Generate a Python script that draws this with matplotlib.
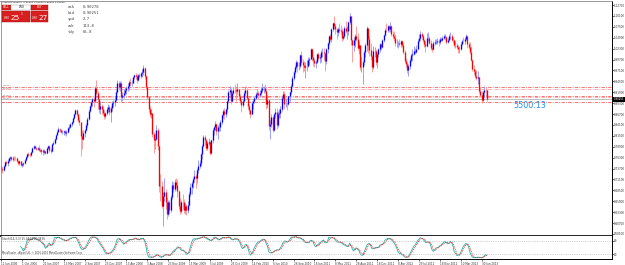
import numpy as np
import pandas as pd
import matplotlib
matplotlib.use("Agg")
import matplotlib.pyplot as plt
from matplotlib.patches import Rectangle
from matplotlib.transforms import blended_transform_factory

# ------------------------------------------
# AUDUSD weekly bars, first week 11 Jun 2006
# ------------------------------------------
start_week = "2006-06-11"
first_open = 0.742

closes = [
    # 2006
    .735, .734, .743, .752, .749, .756, .761, .764, .760, .763, .762, .761,
    .754, .749, .754, .746, .748, .749, .757, .765, .772, .770, .769, .776, .785,
    .791, .786, .783, .787, .782,
    # 2007
    .778, .781, .776, .779, .774, .786, .790, .781, .778, .795, .799, .808,
    .818, .825, .832, .829, .825, .825, .826, .821, .823, .834, .836, .842, .848,
    .858, .866, .877, .866, .853, .848, .814, .808, .822, .829, .840, .856, .873, .886,
    .895, .902, .899, .930, .917, .903, .880, .887, .878, .870, .862, .869, .879,
    # 2008
    .883, .872, .882, .893, .896, .901, .920, .942, .931, .941, .908, .912, .918,
    .925, .929, .933, .943, .940, .942, .955, .959, .958, .949, .959, .957, .964,
    .968, .977, .958, .932, .908, .880, .868, .870, .819, .805, .808, .830, .790,
    .696, .695, .648, .672, .680, .658, .628, .656, .638, .668, .697, .688, .705,
    # 2009
    .698, .683, .647, .636, .658, .657, .637, .648, .637, .650, .676, .694, .702,
    .712, .720, .715, .733, .743, .750, .772, .791, .812, .805, .785, .799, .801,
    .775, .804, .829, .835, .842, .826, .836, .837, .847, .864, .874, .866, .878,
    .898, .919, .924, .899, .917, .925, .924, .921, .927, .909, .899, .888, .898,
    # 2010
    .916, .925, .905, .887, .877, .868, .894, .897, .906, .914, .916, .913, .918,
    .925, .929, .929, .922, .892, .900, .839, .844, .859, .830, .866, .871, .841,
    .868, .869, .880, .905, .915, .892, .892, .890, .909, .920, .935, .952, .968,
    .980, .992, .981, .981, 1.007, .990, .984, .978, .981, .982, .995, .999, 1.021,
    # 2011
    1.003, .997, .988, .990, 1.009, 1.001, 1.003, 1.015, 1.016, 1.012, .994, 1.021, 1.036,
    1.052, 1.047, 1.070, 1.083, 1.077, 1.070, 1.062, 1.070, 1.067, 1.066, 1.049, 1.052, 1.073,
    1.064, 1.066, 1.086, 1.100, 1.043, 1.031, 1.043, 1.052, 1.047, 1.025, 1.032, .978, .980,
    .990, 1.014, 1.031, 1.071, 1.047, 1.020, 1.005, .978, 1.018, 1.018, .990, 1.011, 1.022,
    # 2012
    1.033, 1.028, 1.044, 1.055, 1.068, 1.067, 1.076, 1.069, 1.076, 1.057, 1.053, 1.049, 1.036,
    1.036, 1.036, 1.034, 1.040, 1.032, 1.016, .994, .986, .973, .982, .996, 1.007, 1.010,
    1.018, 1.016, 1.023, 1.042, 1.048, 1.058, 1.053, 1.043, 1.033,
    1.029, 1.048, 1.048, 1.037, 1.025, 1.022, 1.037, 1.038, 1.038,
    1.041, 1.039, 1.047, 1.044, 1.049, 1.054, 1.050, 1.038, 1.044,
    # 2013
    1.052, 1.054, 1.044, 1.043, 1.032, 1.032, 1.026, 1.021, 1.023, 1.035, 1.042, 1.041, 1.046,
    1.052, 1.035, 1.028, 1.016, .996, .974, .969, .957, .953, .955, .922, .913, .900,
    .919, .925, .924, .9025,
]

highs = [
    # 2006
    .745, .740, .746, .755, .757, .759, .765, .767, .768, .766, .766, .766,
    .765, .757, .757, .756, .751, .753, .760, .768, .775, .777, .774, .778, .788,
    .794, .794, .789, .789, .793,
    # 2007
    .786, .784, .784, .783, .781, .788, .792, .793, .787, .797, .802, .810,
    .820, .828, .836, .834, .832, .830, .830, .829, .828, .837, .843, .846, .851,
    .860, .869, .880, .880, .870, .861, .848, .828, .828, .832, .845, .861, .878, .889,
    .898, .906, .908, .933, .949, .921, .904, .898, .891, .886, .876, .872, .884,
    # 2008
    .892, .889, .886, .898, .900, .909, .925, .949, .946, .945, .946, .920, .927,
    .932, .935, .941, .947, .954, .949, .958, .963, .966, .962, .962, .965, .968,
    .975, .985, .980, .960, .935, .910, .885, .879, .868, .823, .822, .841, .833,
    .792, .724, .708, .681, .714, .689, .668, .663, .661, .674, .708, .705, .712,
    # 2009
    .715, .711, .686, .666, .661, .677, .665, .654, .652, .659, .682, .703, .708,
    .716, .734, .725, .739, .757, .758, .775, .795, .817, .816, .807, .803, .810,
    .803, .808, .833, .838, .850, .845, .840, .846, .852, .867, .878, .882, .882,
    .900, .924, .933, .929, .922, .931, .939, .931, .940, .927, .915, .904, .904,
    # 2010
    .922, .933, .928, .908, .892, .880, .898, .902, .910, .919, .926, .922, .925,
    .932, .940, .935, .938, .930, .912, .904, .852, .866, .863, .870, .882, .881,
    .873, .880, .886, .909, .922, .921, .905, .895, .911, .923, .939, .957, .971,
    .984, .995, .994, .990, 1.010, 1.018, .998, .994, .990, .995, 1.002, 1.002, 1.025,
    # 2011
    1.025, 1.003, 1.001, .997, 1.013, 1.016, 1.009, 1.019, 1.025, 1.024, 1.010, 1.024, 1.039,
    1.055, 1.059, 1.073, 1.086, 1.101, 1.082, 1.073, 1.074, 1.083, 1.080, 1.071, 1.066, 1.076,
    1.089, 1.076, 1.090, 1.108, 1.100, 1.046, 1.050, 1.058, 1.077, 1.060, 1.040, 1.031, 1.002,
    .997, 1.020, 1.036, 1.076, 1.067, 1.052, 1.036, 1.007, 1.030, 1.028, 1.023, 1.016, 1.025,
    # 2012
    1.036, 1.037, 1.047, 1.058, 1.071, 1.085, 1.079, 1.080, 1.086, 1.080, 1.066, 1.064, 1.059,
    1.046, 1.042, 1.045, 1.044, 1.044, 1.037, 1.019, 1.000, .990, .986, 1.000, 1.013, 1.022,
    1.030, 1.025, 1.031, 1.045, 1.058, 1.064, 1.062, 1.058, 1.046,
    1.040, 1.060, 1.062, 1.054, 1.043, 1.033, 1.040, 1.045, 1.047,
    1.048, 1.047, 1.050, 1.051, 1.053, 1.058, 1.058, 1.054, 1.049,
    # 2013
    1.059, 1.062, 1.058, 1.051, 1.046, 1.040, 1.037, 1.031, 1.030, 1.039, 1.046, 1.051, 1.051,
    1.059, 1.055, 1.039, 1.038, 1.029, .998, .983, .974, .972, .970, .955, .931, .921,
    .921, .934, .932, .926,
]

lows = [
    # 2006
    .729, .727, .730, .741, .745, .744, .753, .757, .756, .756, .755, .757,
    .752, .745, .746, .744, .740, .743, .747, .755, .763, .766, .765, .766, .775,
    .783, .783, .780, .781, .779,
    # 2007
    .776, .772, .769, .771, .771, .771, .783, .777, .774, .776, .792, .796,
    .806, .816, .824, .824, .822, .820, .818, .816, .815, .822, .830, .834, .838,
    .846, .856, .864, .862, .849, .841, .767, .784, .804, .811, .826, .837, .853, .871,
    .882, .886, .884, .898, .913, .880, .870, .867, .868, .864, .854, .858, .864,
    # 2008
    .872, .865, .847, .873, .883, .887, .898, .918, .925, .922, .895, .899, .905,
    .912, .915, .923, .925, .934, .934, .940, .950, .950, .942, .945, .952, .952,
    .956, .961, .951, .926, .903, .872, .860, .858, .812, .774, .783, .805, .780,
    .680, .660, .642, .601, .660, .641, .617, .624, .628, .633, .664, .682, .683,
    # 2009
    .691, .668, .640, .628, .630, .640, .632, .628, .625, .630, .647, .672, .677,
    .691, .706, .690, .702, .727, .739, .742, .759, .789, .792, .780, .780, .792,
    .770, .772, .799, .818, .829, .817, .808, .826, .826, .844, .857, .855, .861,
    .872, .894, .913, .891, .896, .914, .917, .898, .915, .901, .893, .872, .884,
    # 2010
    .897, .910, .902, .880, .866, .858, .868, .879, .893, .903, .907, .902, .907,
    .912, .920, .917, .917, .879, .882, .830, .807, .835, .823, .827, .858, .832,
    .836, .858, .857, .874, .900, .880, .884, .876, .888, .898, .915, .932, .948,
    .962, .975, .968, .971, .976, .986, .967, .970, .954, .970, .978, .983, .998,
    # 2011
    .994, .981, .979, .977, .989, .996, .989, .992, 1.004, .997, .970, .987, 1.013,
    1.032, 1.040, 1.038, 1.066, 1.070, 1.059, 1.046, 1.052, 1.060, 1.057, 1.040, 1.044, 1.049,
    1.060, 1.046, 1.056, 1.081, 1.031, .990, 1.018, 1.027, 1.042, 1.019, 1.011, .971, .967,
    .939, .983, 1.004, 1.017, 1.013, 1.006, .996, .967, .974, 1.004, .985, .976, 1.004,
    # 2012
    1.016, 1.019, 1.025, 1.038, 1.053, 1.063, 1.063, 1.062, 1.062, 1.052, 1.045, 1.041, 1.030,
    1.028, 1.024, 1.030, 1.028, 1.026, 1.010, .989, .978, .966, .958, .975, .992, .994,
    1.008, 1.010, 1.013, 1.022, 1.039, 1.044, 1.047, 1.038, 1.028,
    1.015, 1.026, 1.040, 1.034, 1.020, 1.014, 1.019, 1.032, 1.033,
    1.033, 1.030, 1.034, 1.040, 1.040, 1.046, 1.043, 1.035, 1.036,
    # 2013
    1.040, 1.047, 1.041, 1.037, 1.028, 1.024, 1.022, 1.012, 1.013, 1.019, 1.032, 1.038, 1.035,
    1.044, 1.024, 1.023, 1.009, .993, .970, .963, .954, .947, .939, .918, .908, .894,
    .899, .907, .910, .899,
]

# horizontal levels drawn on the chart, and quote panel values
level_prices = [0.9326, 0.9259, 0.9107, 0.9064, 0.8957]
level_colors = ["#ff5a5a", "#ff9c9c", "#ff5a5a", "#ff9c9c", "#ff5a5a"]
level_label_above = [True, True, True, False, False]
bid = 0.90251
ask = 0.90278
quote_rows = [("ask", "0.90278"), ("bid", "0.90251"), ("spd", "2.7"),
              ("adr", "113.8"), ("tdy", "65.8")]
lot_size = "0.50"
timer_text = "5500:13"
price_ticks = [1.1270, 1.1010, 1.0750, 1.0490, 1.0230, 0.9970, 0.9710, 0.9450,
               0.9190, 0.8930, 0.8670, 0.8410, 0.8150, 0.7890, 0.7630, 0.7370,
               0.7110, 0.6850, 0.6590, 0.6330, 0.6070, 0.5810]
label_every = 16
stoch_k, stoch_slow, stoch_d = 14, 3, 3

# ------------------------------------------
c = np.array(closes)
h = np.array(highs)
l = np.array(lows)
o = np.r_[first_open, c[:-1]]
n = len(c)
x = np.arange(n)
up = c >= o
weeks = pd.date_range(start_week, periods=n, freq="7D")

s = pd.DataFrame({"h": h, "l": l, "c": c})
hh = s["h"].rolling(stoch_k).max()
ll = s["l"].rolling(stoch_k).min()
k = (s["c"] - ll).rolling(stoch_slow).sum() / (hh - ll).rolling(stoch_slow).sum() * 100
d = k.rolling(stoch_d).mean()

W, H = 625, 265
fig = plt.figure(figsize=(W / 100, H / 100), dpi=100)
fig.patch.set_facecolor("white")

px_bar = 1.306
x0 = (0.5 - 1) / px_bar
x1 = (611.7 - 1) / px_bar

ax = fig.add_axes([0.5 / W, 1 - 236 / H, 611.2 / W, 235 / H])
st = fig.add_axes([0.5 / W, 1 - 259 / H, 611.2 / W, 23 / H])

# price bars
ax.vlines(x[up], l[up], h[up], color="#8f8fff", lw=0.6)
ax.vlines(x[~up], l[~up], h[~up], color="#ff8f8f", lw=0.6)
ax.vlines(x[up], o[up], c[up], color="#0000ff", lw=0.95)
ax.vlines(x[~up], c[~up], o[~up], color="#ff0000", lw=0.95)

for p, col, above in zip(level_prices, level_colors, level_label_above):
    ax.axhline(p, color=col, lw=0.6, ls=(0, (4, 1.5, 1, 1.5)), zorder=1)
    ax.text(2 / px_bar, p + (0.0004 if above else -0.0004), f"{p:.5f}",
            fontsize=1.5, color="#777777", va="bottom" if above else "top", ha="left")
ax.axhline(bid, color="#b4b4b4", lw=0.6, zorder=1)

ax.set_xlim(x0, x1)
ax.set_ylim(1.127 - 231 * 0.002385, 1.127 + 4 * 0.002385)
ax.set_xticks([])
ax.yaxis.tick_right()
ax.set_yticks(price_ticks)
ax.set_yticklabels([f"{v:.5f}" for v in price_ticks])
ax.tick_params(axis="y", length=1.2, width=0.4, pad=0.4, labelsize=2.0,
               labelcolor="#333333")
for side in ("top", "left"):
    ax.spines[side].set_color("#8a8a8a")
    ax.spines[side].set_linewidth(0.6)
ax.spines["right"].set_color("black")
ax.spines["right"].set_linewidth(0.7)
ax.spines["bottom"].set_color("black")
ax.spines["bottom"].set_linewidth(1.2)

tr = blended_transform_factory(ax.transAxes, ax.transData)
ax.text(1.003, bid, f"{bid:.5f}", transform=tr, fontsize=1.9, color="white",
        va="center", ha="left",
        bbox=dict(boxstyle="square,pad=0.2", fc="black", ec="none"))

# stochastic
st.plot(x, k, color="#20b2aa", lw=0.6)
st.plot(x, d, color="#ff0000", lw=0.5, ls=(0, (1.5, 1.2)))
for lvl in (80, 20):
    st.axhline(lvl, color="#a8a8a8", lw=0.5, ls=":")
st.set_xlim(x0, x1)
st.set_ylim(-1, 101.3)
st.yaxis.tick_right()
st.set_yticks([80, 20])
st.set_yticklabels(["80", "20"])
st.tick_params(axis="y", length=1.2, width=0.4, pad=0.4, labelsize=2.0,
               labelcolor="#333333")
tick_idx = x[::label_every]
st.set_xticks(tick_idx)
st.set_xticklabels([f"{weeks[i].day} {weeks[i]:%b %Y}" for i in tick_idx],
                   fontsize=1.95, ha="left", color="#333333")
st.tick_params(axis="x", length=1.5, width=0.4, pad=0.6)
st.spines["top"].set_visible(False)
st.spines["left"].set_color("#8a8a8a")
st.spines["left"].set_linewidth(0.6)
st.spines["right"].set_linewidth(0.7)
st.spines["bottom"].set_linewidth(0.7)
st.text(0.003, 0.86,
        f"Stoch({stoch_k},{stoch_slow},{stoch_d}) {k.iloc[-1]:.4f} {d.iloc[-1]:.4f}",
        transform=st.transAxes, fontsize=2.0, va="center", ha="left", color="#333333")
st.text(0.003, 0.28, "MetaTrader - Alpari UK, \u00a9 2001-2010 MetaQuotes Software Corp.",
        transform=st.transAxes, fontsize=1.8, va="center", ha="left", color="#333333")

# overlay in pixel coordinates: quote panel and timer
ui = fig.add_axes([0, 0, 1, 1])
ui.set_xlim(0, W)
ui.set_ylim(H, 0)
ui.axis("off")

ui.text(2, 2.4, f"AUDUSD,Weekly  {o[-1]:.5f} {h[-1]:.5f} {l[-1]:.5f} {c[-1]:.5f}",
        fontsize=1.7, va="center", ha="left", color="black")

red = "#d81e1e"
ui.add_patch(Rectangle((1.7, 4.7), 9.5, 5.6, fc=red, ec="#a01010", lw=0.3))
ui.add_patch(Rectangle((11.2, 4.7), 19.5, 5.6, fc="white", ec="#9a9a9a", lw=0.3))
ui.add_patch(Rectangle((30.7, 4.7), 17.3, 5.6, fc=red, ec="#a01010", lw=0.3))
ui.text(6.4, 7.5, "SELL", fontsize=2.0, color="white", ha="center", va="center")
ui.text(21.5, 7.5, lot_size, fontsize=2.0, color="black", ha="center", va="center")
ui.text(39.3, 7.5, "BUY", fontsize=2.0, color="white", ha="center", va="center")

ui.add_patch(Rectangle((1.7, 11.3), 28.6, 10.4, fc=red, ec="#a01010", lw=0.3))
ui.add_patch(Rectangle((30.7, 11.3), 17.3, 10.4, fc=red, ec="#a01010", lw=0.3))
for x_left, price in ((3.5, bid), (31.8, ask)):
    txt = f"{price:.5f}"
    ui.text(x_left, 19.0, txt[:4], fontsize=2.0, color="white", ha="left", va="baseline")
    ui.text(x_left + 7.0, 20.4, txt[4:6], fontsize=5.2, color="white",
            ha="left", va="baseline")
    ui.text(x_left + 16.8, 15.0, txt[6], fontsize=2.2, color="white",
            ha="left", va="baseline")

for i, (lab, val) in enumerate(quote_rows):
    yy = 7.0 + 6.2 * i
    ui.text(68, yy, lab, fontsize=2.9, family="DejaVu Sans Mono", color="#444444",
            va="center", ha="left")
    ui.text(83, yy, val, fontsize=2.9, family="DejaVu Sans Mono", color="#444444",
            va="center", ha="left")

ui.text(513, 105, timer_text, fontsize=5.8, color="#1e90ff", va="center", ha="left")

fig.savefig("out.png", dpi=100, facecolor="white")
